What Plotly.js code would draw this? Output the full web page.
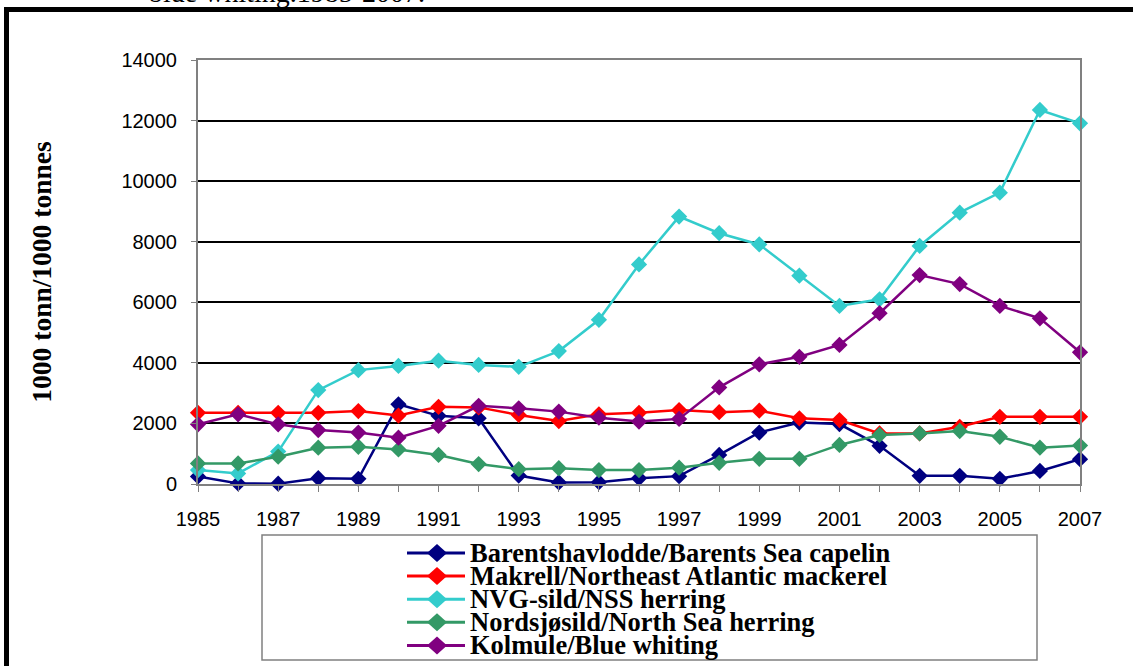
<!DOCTYPE html>
<html>
<head>
<meta charset="utf-8">
<script src="https://cdn.plot.ly/plotly-3.0.1.min.js"></script>
<style>
  html, body { margin: 0; padding: 0; background: #ffffff; }
  #chart { width: 1133px; height: 666px; }
</style>
</head>
<body>
<div id="chart"></div>
<script>
// ---- data (1000 tonnes) ----
const years = [1985, 1986, 1987, 1988, 1989, 1990, 1991, 1992, 1993, 1994, 1995, 1996,
               1997, 1998, 1999, 2000, 2001, 2002, 2003, 2004, 2005, 2006, 2007];

const capelin     = [250, 20, 10, 190, 170, 2630, 2250, 2170, 280, 50, 60, 190,
                     260, 960, 1700, 2030, 1980, 1260, 270, 270, 170, 430, 820];
const mackerel    = [2350, 2350, 2350, 2350, 2410, 2260, 2550, 2530, 2280, 2080, 2300, 2350,
                     2440, 2370, 2420, 2170, 2110, 1670, 1670, 1890, 2220, 2220, 2220];
const nssHerring  = [460, 350, 1070, 3100, 3760, 3900, 4070, 3930, 3870, 4390, 5420, 7250,
                     8830, 8280, 7910, 6880, 5880, 6100, 7860, 8960, 9620, 12350, 11910];
const northSea    = [680, 680, 900, 1200, 1230, 1140, 960, 660, 490, 520, 460, 460,
                     540, 700, 830, 830, 1290, 1620, 1670, 1750, 1560, 1200, 1270];
const blueWhiting = [1970, 2300, 1970, 1780, 1700, 1530, 1920, 2580, 2500, 2390, 2190, 2060,
                     2150, 3190, 3950, 4200, 4590, 5640, 6900, 6600, 5880, 5470, 4350];

const seriesNames = [
  "Barentshavlodde/Barents Sea capelin",
  "Makrell/Northeast Atlantic mackerel",
  "NVG-sild/NSS herring",
  "Nordsjøsild/North Sea herring",
  "Kolmule/Blue whiting"
];
const seriesValues = [capelin, mackerel, nssHerring, northSea, blueWhiting];
const seriesColors = ["#000080", "#FF0000", "#33CCCC", "#339966", "#800080"];

const yTickVals = [0, 2000, 4000, 6000, 8000, 10000, 12000, 14000];
const yTitle = "1000 tonn/1000 tonnes";
const topText = "blue whiting.1985-2007.";

// ---- geometry helpers (pixel -> paper) ----
const W = 1133, H = 666;
const L = 198, R = 1080, T = 60, B = 484;
const PX = p => (p - L) / (R - L);
const PY = p => (B - p) / (B - T);

const traces = seriesValues.map((vals, i) => ({
  type: "scatter",
  mode: "lines+markers",
  name: seriesNames[i],
  x: years,
  y: vals,
  line: { color: seriesColors[i], width: 2.5 },
  marker: { symbol: "diamond", size: 12.5, color: seriesColors[i] },
  cliponaxis: false,
  showlegend: false
}));

const serif = "Liberation Serif, Times New Roman, serif";
const sans = "Liberation Sans, Arial, sans-serif";

const shapes = [];
const annotations = [];

// outer page frame (thick black)
shapes.push({ type: "line", xref: "paper", yref: "paper",
  x0: PX(4), x1: PX(1140), y0: PY(9.5), y1: PY(9.5),
  line: { color: "#000000", width: 5 } });
shapes.push({ type: "line", xref: "paper", yref: "paper",
  x0: PX(6.5), x1: PX(6.5), y0: PY(7), y1: PY(672),
  line: { color: "#000000", width: 5 } });

// legend box
shapes.push({ type: "rect", xref: "paper", yref: "paper",
  x0: PX(262), x1: PX(1037), y0: PY(535), y1: PY(660),
  line: { color: "#808080", width: 1.5 }, fillcolor: "rgba(0,0,0,0)" });

// legend entries
const rowY0 = 553, rowStep = 23.1;
seriesNames.forEach((nm, i) => {
  const cy = rowY0 + i * rowStep;
  shapes.push({ type: "line", xref: "paper", yref: "paper",
    x0: PX(407), x1: PX(465), y0: PY(cy), y1: PY(cy),
    line: { color: seriesColors[i], width: 3 } });
  const cx = 437, hw = 10, hh = 9;
  shapes.push({ type: "path", xref: "paper", yref: "paper",
    path: "M " + PX(cx - hw) + " " + PY(cy) + " L " + PX(cx) + " " + PY(cy - hh) +
          " L " + PX(cx + hw) + " " + PY(cy) + " L " + PX(cx) + " " + PY(cy + hh) + " Z",
    fillcolor: seriesColors[i], line: { color: seriesColors[i], width: 0 } });
  annotations.push({ xref: "paper", yref: "paper", x: PX(468), y: PY(cy),
    xanchor: "left", yanchor: "middle", showarrow: false,
    text: "<b>" + nm + "</b>",
    font: { family: serif, size: 26.5, color: "#000000" } });
});

// partially visible caption text at the very top of the page
annotations.push({ xref: "paper", yref: "paper", x: PX(147), y: PY(10),
  xanchor: "left", yanchor: "bottom", showarrow: false,
  text: topText, font: { family: serif, size: 28, color: "#000000" } });

const layout = {
  width: W, height: H,
  margin: { l: L, r: W - R, t: T, b: H - B, pad: 0 },
  paper_bgcolor: "#ffffff",
  plot_bgcolor: "#ffffff",
  showlegend: false,
  xaxis: {
    range: [1985, 2007],
    tickmode: "linear", tick0: 1985, dtick: 2,
    ticks: "outside", ticklen: 6, tickwidth: 1, tickcolor: "#808080",
    ticklabelstandoff: 10,
    minor: { dtick: 1, tick0: 1985, ticks: "outside", ticklen: 6, tickwidth: 1, tickcolor: "#808080", showgrid: false },
    showgrid: false, zeroline: false,
    showline: true, linecolor: "#808080", linewidth: 2, mirror: true,
    tickfont: { family: sans, size: 20, color: "#000000" },
    fixedrange: true
  },
  yaxis: {
    range: [0, 14000],
    tickmode: "array", tickvals: yTickVals, ticktext: yTickVals.map(String),
    ticks: "outside", ticklen: 5, tickwidth: 1, tickcolor: "#808080",
    ticklabelstandoff: 10,
    showgrid: true, gridcolor: "#000000", gridwidth: 2,
    zeroline: false,
    showline: true, linecolor: "#808080", linewidth: 2, mirror: true,
    tickfont: { family: sans, size: 20, color: "#000000" },
    title: { text: "<b>" + yTitle + "</b>", standoff: 62,
             font: { family: serif, size: 27.5, color: "#000000" } },
    automargin: false,
    fixedrange: true
  },
  shapes: shapes,
  annotations: annotations
};

Plotly.newPlot("chart", traces, layout, { displayModeBar: false, staticPlot: true });
</script>
</body>
</html>
